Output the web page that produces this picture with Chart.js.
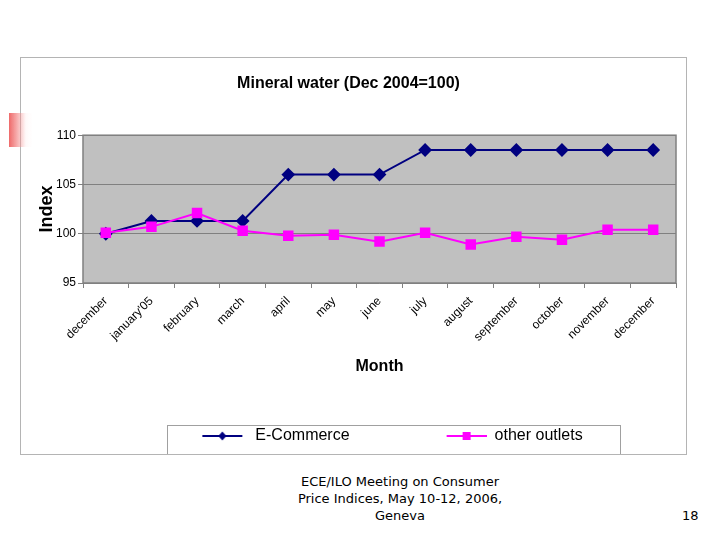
<!DOCTYPE html>
<html>
<head>
<meta charset="utf-8">
<script src="https://cdn.jsdelivr.net/npm/chart.js@4.4.0/dist/chart.umd.min.js"></script>
<style>
body{margin:0;width:720px;height:540px;background:#fff;position:relative;overflow:hidden;font-family:"DejaVu Sans",Verdana,sans-serif}
#box{position:absolute;left:20px;top:57px;width:667px;height:398px;border:1px solid #b4b4b4;box-sizing:border-box;background:#fff}
#wrap{position:absolute;left:0;top:0;width:665px;height:396px}
#flag{position:absolute;left:9px;top:113px;width:24px;height:34px;background:linear-gradient(to right,rgba(236,80,80,0.85),rgba(255,235,235,0.3) 70%,rgba(255,255,255,0))}
#foot{position:absolute;left:250px;width:300px;top:473px;text-align:center;font-size:13px;line-height:17px;color:#000}
#num{position:absolute;left:682px;top:507px;font-size:13px;line-height:17px}
</style>
</head>
<body>
<div id="box"><div id="wrap"><canvas id="myChart"></canvas></div></div>
<div id="flag"></div>
<div id="foot">ECE/ILO Meeting on Consumer<br>Price Indices, May 10-12, 2006,<br>Geneva</div>
<div id="num">18</div>
<script>
// данные графика
const months = ['december', "january'05", 'february', 'march', 'april', 'may', 'june', 'july', 'august', 'september', 'october', 'november', 'december'];
const eCommerce = [100, 101.3, 101.3, 101.3, 106, 106, 106, 108.5, 108.5, 108.5, 108.5, 108.5, 108.5];
const otherOutlets = [100.1, 100.7, 102.1, 100.3, 99.8, 99.9, 99.2, 100.1, 98.9, 99.7, 99.4, 100.4, 100.4];
const yTicks = [95, 100, 105, 110];

const navy = '#000080';
const pink = '#ff00ff';
const font = "'Liberation Sans', Arial, sans-serif";

// значок легенды: линия с маркером (слева пустое место)
const markW = 133;
function legendMark(color, diamond, x0) {
  let c = document.createElement('canvas');
  c.width = markW; c.height = 16;
  let g = c.getContext('2d');
  let cx = x0 + 20;
  g.strokeStyle = color; g.lineWidth = 2;
  g.beginPath(); g.moveTo(x0, 8); g.lineTo(x0 + 40, 8); g.stroke();
  g.fillStyle = color;
  g.beginPath();
  if (diamond) {
    g.moveTo(cx, 3.5); g.lineTo(cx + 4, 8); g.lineTo(cx, 12.5); g.lineTo(cx - 4, 8);
  } else {
    g.rect(cx - 4, 4, 8, 8);
  }
  g.fill();
  return c;
}
const marks = [legendMark(navy, true, markW - 45), legendMark(pink, false, markW - 40)];

const plotBack = {
  id: 'plotBack',
  beforeDraw(chart) {
    let a = chart.chartArea, ctx = chart.ctx;
    ctx.save();
    ctx.fillStyle = '#c0c0c0';
    ctx.fillRect(a.left, a.top, a.width, a.height);
    ctx.strokeStyle = '#808080';
    ctx.lineWidth = 1.5;
    ctx.strokeRect(a.left, a.top, a.width, a.height);
    ctx.restore();
  },
  afterDraw(chart) {
    let hb = chart.legend.legendHitBoxes;
    if (!hb || hb.length < 2) return;
    let ctx = chart.ctx;
    let left = hb[0].left + (markW - 45) - 35;
    let right = hb[1].left + hb[1].width + 38;
    let top = hb[0].top - 3;
    ctx.save();
    ctx.strokeStyle = '#a0a0a0';
    ctx.lineWidth = 1;
    ctx.strokeRect(Math.round(left) + 0.5, Math.round(top) + 0.5, Math.round(right - left), chart.height);
    ctx.restore();
  }
};

let ctx = document.getElementById('myChart').getContext('2d');
let chart = new Chart(ctx, {
  type: 'line',
  data: {
    labels: months,
    datasets: [{
      label: 'E-Commerce',
      data: eCommerce,
      borderColor: navy,
      backgroundColor: navy,
      pointStyle: 'rectRot',
      pointRadius: 5.5,
      borderWidth: 2,
      order: 2
    }, {
      label: 'other outlets',
      data: otherOutlets,
      borderColor: pink,
      backgroundColor: pink,
      pointStyle: 'rect',
      pointRadius: 6,
      borderWidth: 2,
      order: 1
    }]
  },
  options: {
    responsive: true,
    maintainAspectRatio: false,
    animation: false,
    layout: { padding: { left: 0, right: 10, top: 0, bottom: 0 } },
    plugins: {
      title: {
        display: true,
        text: 'Mineral water (Dec 2004=100)',
        color: '#000',
        font: { family: font, size: 16, weight: 'bold' },
        padding: { top: 16, bottom: 42 }
      },
      legend: {
        position: 'bottom',
        labels: {
          usePointStyle: true,
          pointStyleWidth: markW,
          padding: 4,
          color: '#000',
          font: { family: font, size: 16 },
          sort: (a, b) => a.datasetIndex - b.datasetIndex,
          generateLabels(ch) {
            let items = Chart.defaults.plugins.legend.labels.generateLabels(ch);
            items.forEach(it => { it.pointStyle = marks[it.datasetIndex]; });
            return items;
          }
        }
      },
      tooltip: { enabled: false }
    },
    scales: {
      x: {
        offset: true,
        grid: { display: true, drawOnChartArea: false, drawTicks: true, tickLength: 5, offset: true, color: '#808080' },
        border: { display: false },
        ticks: { color: '#000', font: { family: font, size: 12 }, minRotation: 45, maxRotation: 45, autoSkip: false, padding: 6 },
        title: { display: true, text: 'Month', color: '#000', font: { family: font, size: 16, weight: 'bold' }, padding: { top: 4, bottom: 48 } },
        afterFit(s) { s.height = 141; }
      },
      y: {
        min: yTicks[0],
        max: yTicks[yTicks.length - 1],
        ticks: { stepSize: yTicks[1] - yTicks[0], color: '#000', font: { family: font, size: 12 }, padding: 2 },
        grid: { color: '#808080', tickLength: 5 },
        border: { display: false },
        title: { display: true, text: 'Index', color: '#000', font: { family: font, size: 18, weight: 'bold' }, padding: { top: 15, bottom: 0 } },
        afterFit(s) { s.width = 62; }
      }
    }
  },
  plugins: [plotBack]
});
</script>
</body>
</html>
